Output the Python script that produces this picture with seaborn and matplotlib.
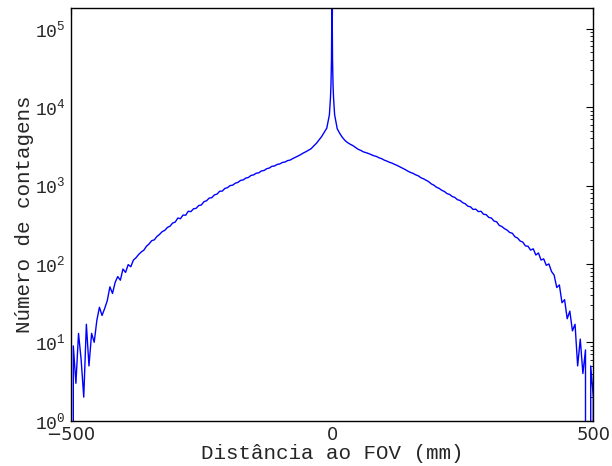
import numpy as np
import pandas as pd
import seaborn as sns
import matplotlib
matplotlib.use("Agg")
import matplotlib.pyplot as plt
from matplotlib.ticker import LogLocator, NullLocator

# bin positions (mm) and counts
left_dist = np.arange(-500, -4, 5)
left_counts = [
    0, 9, 3, 13, 6, 2, 17, 5, 13, 10,
    19, 28, 22, 27, 34, 51, 42, 58, 69, 62,
    86, 78, 98, 92, 112, 120, 132, 142, 150, 168,
    180, 198, 203, 224, 238, 258, 268, 292, 303, 332,
    342, 385, 378, 420, 418, 470, 465, 505, 512, 556,
    565, 622, 640, 692, 700, 760, 778, 845, 850, 918,
    940, 998, 1012, 1072, 1098, 1162, 1180, 1245, 1268, 1345,
    1368, 1436, 1455, 1536, 1556, 1640, 1672, 1760, 1776, 1860,
    1885, 1970, 1995, 2080, 2115, 2210, 2290, 2380, 2480, 2600,
    2700, 2820, 2950, 3200, 3450, 3800, 4200, 4750, 5400, 8000,
]

peak_dist = [-4, -3, -2, -1, 0, 1, 2, 3, 4]
peak_counts = [10000, 13000, 19000, 40000, 300000, 40000, 19000, 13000, 10000]

right_dist = np.arange(5, 501, 5)
right_counts = [
    8000, 5300, 4600, 4100, 3750, 3520, 3360, 3230, 3060, 2900,
    2810, 2690, 2630, 2560, 2480, 2400, 2350, 2260, 2200, 2110,
    2050, 1980, 1930, 1860, 1800, 1730, 1660, 1600, 1530, 1470,
    1430, 1370, 1330, 1260, 1220, 1170, 1120, 1050, 1010, 950,
    920, 870, 840, 790, 770, 725, 705, 660, 645, 605,
    585, 545, 535, 495, 500, 465, 470, 430, 425, 392,
    385, 352, 345, 310, 300, 282, 270, 252, 246, 222,
    214, 196, 190, 170, 168, 150, 156, 130, 138, 112,
    116, 96, 100, 80, 72, 50, 54, 32, 35, 20,
    25, 14, 17, 5, 11, 4, 8, 0, 5, 2,
]
# outermost bin at +500 mm is empty
edge_dist = [500]
edge_counts = [0]

df = pd.DataFrame({
    "dist": np.concatenate([left_dist, peak_dist, right_dist, edge_dist]),
    "counts": np.concatenate([left_counts, peak_counts, right_counts,
                              edge_counts]).astype(float),
})

sns.set_style("white")
plt.rcParams["font.family"] = ["Liberation Mono", "DejaVu Sans"]
plt.rcParams["mathtext.fontset"] = "dejavusans"

fig = plt.figure(figsize=(6.12, 4.66), dpi=100)
ax = fig.add_axes([0.1155, 0.0972, 0.854, 0.8856])
sns.lineplot(data=df, x="dist", y="counts", ax=ax, color="#0000ff",
             linewidth=1.0, sort=False, estimator=None)

ax.set_yscale("log", nonpositive="clip")
ax.set_xlim(-500, 500)
ax.set_ylim(1, 1.84e5)
ax.set_xticks([-500, 0, 500])
ax.xaxis.set_minor_locator(NullLocator())
ax.yaxis.set_major_locator(LogLocator(base=10))
ax.yaxis.set_minor_locator(LogLocator(base=10, subs=np.arange(2, 10)))

ax.tick_params(which="both", direction="in", top=True, right=True,
               labelsize=13, color="black")
ax.tick_params(which="major", length=5, width=0.8)
ax.tick_params(which="minor", length=2.5, width=0.6)
for lbl in ax.get_xticklabels():
    lbl.set_family("DejaVu Sans")

for s in ax.spines.values():
    s.set_color("black")
    s.set_linewidth(1.0)

ax.set_xlabel("Distância ao FOV (mm)", fontsize=15, labelpad=0)
ax.set_ylabel("Número de contagens", fontsize=15, labelpad=1)

fig.savefig("out.png", dpi=100)
